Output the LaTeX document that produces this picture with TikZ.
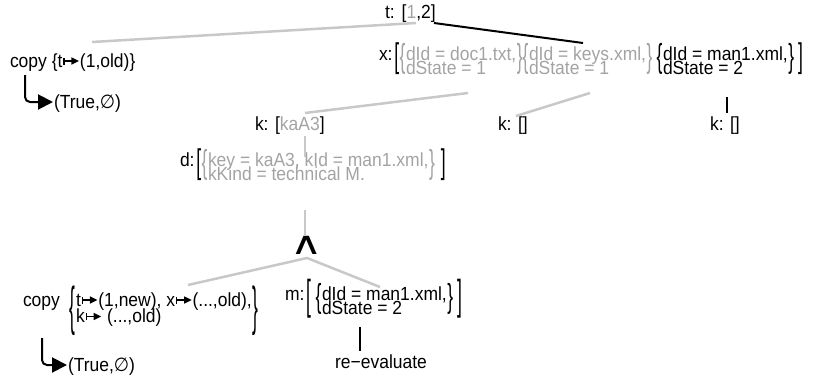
\documentclass[tikz,border=0pt]{standalone}
\usepackage{fontspec}
\setmainfont{Liberation Sans}[FakeStretch=0.92]
\newfontfamily\dejavu{DejaVu Sans}[FakeStretch=0.92]
\usetikzlibrary{arrows.meta,calc}
\definecolor{gtext}{HTML}{A3A3A3}
\definecolor{gline}{HTML}{C8C8C8}
\newsavebox\mtobox
\AtBeginDocument{\sbox\mtobox{\pgfpicture
  \pgfsetbaseline{0pt}
  \pgfsetlinewidth{1.2pt}
  \pgfpathmoveto{\pgfpoint{1.6pt}{2.5pt}}\pgfpathlineto{\pgfpoint{1.6pt}{9.5pt}}\pgfusepath{stroke}
  \pgfpathmoveto{\pgfpoint{1.6pt}{6pt}}\pgfpathlineto{\pgfpoint{10pt}{6pt}}\pgfusepath{stroke}
  \pgfpathmoveto{\pgfpoint{9pt}{2.3pt}}\pgfpathlineto{\pgfpoint{16.5pt}{6pt}}\pgfpathlineto{\pgfpoint{9pt}{9.7pt}}\pgfpathclose\pgfusepath{fill}
  \pgfpathrectangle{\pgfpoint{0pt}{2pt}}{\pgfpoint{17.5pt}{8pt}}\pgfusepath{}
  \endpgfpicture}}
\newcommand\mto{\usebox\mtobox}
\newcommand\rows[3][14.5pt]{\vtop{\baselineskip=#1\lineskiplimit=-30pt\lineskip=0pt\hbox{#2}\hbox{#3}}}
\newcommand\tall[2]{\scalebox{1}[#1]{#2}}
\newcommand\emptyS{{\dejavu ∅}}
\begin{document}
\begin{tikzpicture}[x=1pt,y=-1pt,
  every node/.style={inner sep=0pt,outer sep=0pt,font=\fontsize{19}{14}\selectfont},
  txt/.style={anchor=base west},
  gtx/.style={anchor=base west,text=gtext},
  gl/.style={draw=gline,line width=2.5pt},
  bl/.style={draw=black,line width=2pt},
  hook/.style={draw=black,line width=2pt,rounded corners=5pt,-{Triangle[length=15pt,width=15pt]}}]
\useasboundingbox (0,0) rectangle (813,380);
% top
\node[txt] (t) at (385,18) {t:\hspace{7pt}[{\color{gtext}1},2]};
\node[txt] (copyA) at (10,67) {copy \{t\mto(1,old)\}};
\node[txt] (trueA) at (54,108) {(True,\emptyS)};
% x row
\node[txt] (xlab) at (379,60) {x:};
\node[gtx] (xg1) at (406,60) {\rows{dId = doc1.txt,}{dState = 1}};
\node[gtx] (xg2) at (529,60) {\rows{dId = keys.xml,}{dState = 1}};
\node[txt] (xg3) at (663,60) {\rows{dId = man1.xml,}{dState = 2}};
\node[anchor=east,text=gtext] (xg1L) at ([xshift=-0.5pt,yshift=1.5pt]xg1.west) {\tall{1.75}{\{}};
\node[anchor=west,text=gtext] (xg1R) at ([xshift=0.5pt,yshift=1.5pt]xg1.east) {\tall{1.75}{\}}};
\node[anchor=east,text=gtext] (xg2L) at ([xshift=-0.5pt,yshift=1.5pt]xg2.west) {\tall{1.75}{\{}};
\node[anchor=west,text=gtext] (xg2R) at ([xshift=0.5pt,yshift=1.5pt]xg2.east) {\tall{1.75}{\}}};
\node[anchor=east] (xg3L) at ([xshift=-0.5pt,yshift=1.5pt]xg3.west) {\tall{1.75}{\{}};
\node[anchor=west] (xg3R) at ([xshift=0.5pt,yshift=1.5pt]xg3.east) {\tall{1.75}{\}}};
\node[anchor=east] (xbL) at ([xshift=-0.5pt]xg1L.west) {\tall{1.8}{[}};
\node[anchor=west] (xbR) at ([xshift=4pt]xg3R.east) {\tall{1.8}{]}};
% k row
\node[txt] (k1) at (255,130) {k: [{\color{gtext}kaA3}]};
\node[txt] (k2) at (498,130) {k: []};
\node[txt] (k3) at (710,130) {k: []};
% d row
\node[txt] (dlab) at (180,166) {d:};
\node[gtx] (dg) at (208,166) {\rows{key = kaA3, kId = man1.xml,}{kKind = technical M.}};
\node[anchor=east,text=gtext] (dgL) at ([xshift=-0.5pt,yshift=1.5pt]dg.west) {\tall{1.75}{\{}};
\node[anchor=west,text=gtext] (dgR) at ([xshift=0.5pt,yshift=1.5pt]dg.east) {\tall{1.75}{\}}};
\node[anchor=east] (dbL) at ([xshift=-0.5pt]dgL.west) {\tall{1.8}{[}};
\node[anchor=west] (dbR) at ([xshift=6pt]dgR.east) {\tall{1.8}{]}};
% and
\node (and) at (307,245) {\dejavu\fontsize{30}{30}\selectfont\scalebox{1.6}[1.05]{∧}};
% bottom
\node[txt] (copyB) at (23,306) {copy};
\node[txt] (cg) at (76,306) {\rows[16.5pt]{t\mto(1,new), x\mto(...,old),}{k\mto\ (...,old)}};
\node[anchor=east] (cgL) at ([xshift=-0.5pt,yshift=-1pt]cg.west) {\tall{2.8}{\{}};
\node[anchor=west] (cgR) at ([xshift=0.5pt,yshift=-1pt]cg.east) {\tall{2.8}{\}}};
\node[txt] (mlab) at (285,300) {m:};
\node[txt] (mg) at (322,300) {\rows{dId = man1.xml,}{dState = 2}};
\node[anchor=east] (mgL) at ([xshift=-0.5pt,yshift=1.5pt]mg.west) {\tall{1.75}{\{}};
\node[anchor=west] (mgR) at ([xshift=0.5pt,yshift=1.5pt]mg.east) {\tall{1.75}{\}}};
\node[anchor=east] (mbL) at ([xshift=-4pt]mgL.west) {\tall{2.2}{[}};
\node[anchor=west] (mbR) at ([xshift=4pt]mgR.east) {\tall{2.2}{]}};
\node[anchor=base] (re) at (381,368) {re−evaluate};
\node[txt] (trueB) at (68,371) {(True,\emptyS)};
% connector ends
\coordinate (tone) at (416,23);
\coordinate (ttwo) at (434,23);
\coordinate (copyAtop) at (92,42);
\coordinate (xtop) at (583,43);
\coordinate (xe1) at (468,93);
\coordinate (xe2) at (590,93);
\coordinate (xe3) at (727,97);
\coordinate (k1top) at (305,113);
\coordinate (k2top) at (516,116);
\coordinate (k3top) at (727,113);
\coordinate (k1bot) at (305,136);
\coordinate (dtop) at (305,157);
\coordinate (dbot) at (305,210);
\coordinate (andtop) at (305,236);
\coordinate (andbot) at (307,258);
\coordinate (copyBtop) at (188,285);
\coordinate (mtop) at (380,287);
\coordinate (mbot) at (360,327);
\coordinate (retop) at (360,351);
\coordinate (hookA) at (25,75);
\coordinate (hookB) at (42,338);
% connectors
\draw[gl] (copyAtop) -- (tone);
\draw[bl] (ttwo) -- (xtop);
\draw[gl] (xe1) -- (k1top);
\draw[gl] (xe2) -- (k2top);
\draw[bl] (xe3) -- (k3top);
\draw[gl] (k1bot) -- (dtop);
\draw[gl] (dbot) -- (andtop);
\draw[gl] (copyBtop) -- (andbot) -- (mtop);
\draw[bl] (mbot) -- (retop);
\draw[hook] (hookA) |- ($(trueA.base west)+(-1,-6)$);
\draw[hook] (hookB) |- ($(trueB.base west)+(-1,-6)$);
\end{tikzpicture}
\end{document}
